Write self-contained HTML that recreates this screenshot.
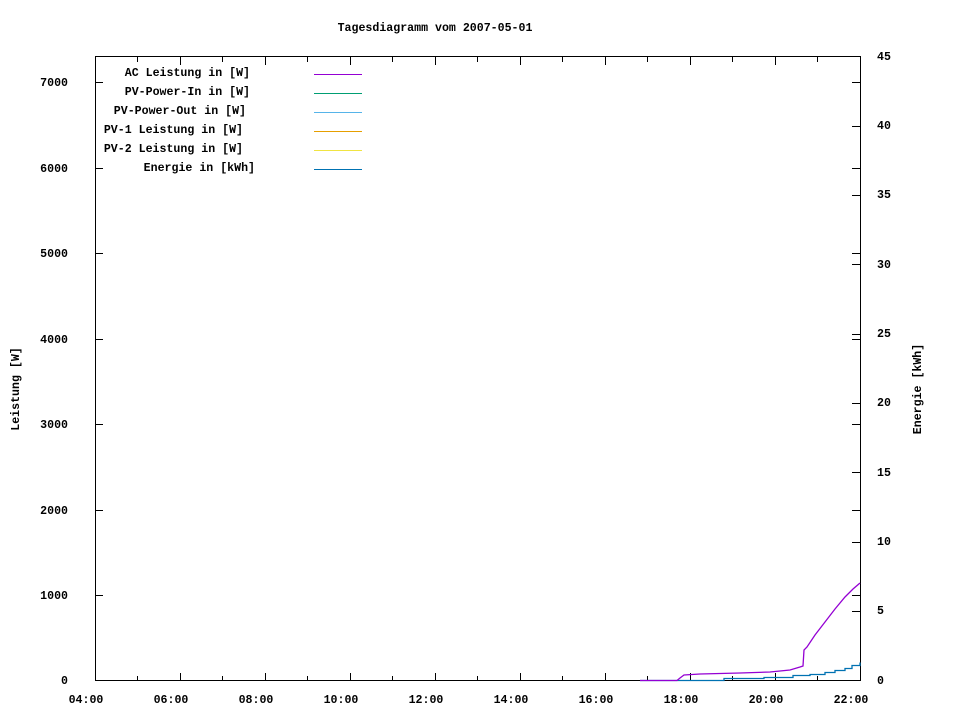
<!DOCTYPE html>
<html><head><meta charset="utf-8"><style>
body{margin:0;background:#fff}
text{font-family:"Liberation Mono",monospace;font-size:11.6px;font-weight:bold;fill:#000}
</style></head><body>
<svg width="960" height="720" xmlns="http://www.w3.org/2000/svg">
<text x="435" y="31" text-anchor="middle">Tagesdiagramm vom 2007-05-01</text>
<rect x="95.5" y="56.5" width="765" height="624" fill="none" stroke="#000"/>
<g stroke="#000">
<path d="M137.5 681v-5M180.5 681v-8M222.5 681v-5M265.5 681v-8M307.5 681v-5M350.5 681v-8M392.5 681v-5M435.5 681v-8M477.5 681v-5M520.5 681v-8M562.5 681v-5M605.5 681v-8M647.5 681v-5M690.5 681v-8M732.5 681v-5M775.5 681v-8M817.5 681v-5
M137.5 57v5M180.5 57v8M222.5 57v5M265.5 57v8M307.5 57v5M350.5 57v8M392.5 57v5M435.5 57v8M477.5 57v5M520.5 57v8M562.5 57v5M605.5 57v8M647.5 57v5M690.5 57v8M732.5 57v5M775.5 57v8M817.5 57v5"/>
<path d="M95 595.5h8M95 510.5h8M95 424.5h8M95 339.5h8M95 253.5h8M95 168.5h8M95 82.5h8
M860 595.5h-8M860 510.5h-8M860 424.5h-8M860 339.5h-8M860 253.5h-8M860 168.5h-8M860 82.5h-8
M860 611.5h-8M860 542.5h-8M860 472.5h-8M860 403.5h-8M860 334.5h-8M860 264.5h-8M860 195.5h-8M860 126.5h-8"/>
</g>
<g text-anchor="end">
<text x="68" y="684">0</text><text x="68" y="599">1000</text><text x="68" y="514">2000</text><text x="68" y="428">3000</text><text x="68" y="343">4000</text><text x="68" y="257">5000</text><text x="68" y="172">6000</text><text x="68" y="86">7000</text>
</g>
<g text-anchor="start">
<text x="877" y="684">0</text><text x="877" y="614">5</text><text x="877" y="545">10</text><text x="877" y="476">15</text><text x="877" y="406">20</text><text x="877" y="337">25</text><text x="877" y="268">30</text><text x="877" y="198">35</text><text x="877" y="129">40</text><text x="877" y="60">45</text>
</g>
<g text-anchor="middle">
<text x="86" y="703">04:00</text><text x="171" y="703">06:00</text><text x="256" y="703">08:00</text><text x="341" y="703">10:00</text><text x="426" y="703">12:00</text><text x="511" y="703">14:00</text><text x="596" y="703">16:00</text><text x="681" y="703">18:00</text><text x="766" y="703">20:00</text><text x="851" y="703">22:00</text>
</g>
<text transform="translate(19,389) rotate(-90)" text-anchor="middle">Leistung [W]</text>
<text transform="translate(921,389) rotate(-90)" text-anchor="middle">Energie [kWh]</text>
<g text-anchor="end">
<text x="250" y="76">AC Leistung in [W]</text>
<text x="250" y="95">PV-Power-In in [W]</text>
<text x="246" y="114">PV-Power-Out in [W]</text>
<text x="243" y="133">PV-1 Leistung in [W]</text>
<text x="243" y="152">PV-2 Leistung in [W]</text>
<text x="255" y="171">Energie in [kWh]</text>
</g>
<g stroke-width="1">
<path d="M314 74.5h48" stroke="#9400d3"/>
<path d="M314 93.5h48" stroke="#009e73"/>
<path d="M314 112.5h48" stroke="#56b4e9"/>
<path d="M314 131.5h48" stroke="#e69f00"/>
<path d="M314 150.5h48" stroke="#f0e442"/>
<path d="M314 169.5h48" stroke="#0072b2"/>
</g>
<path fill="none" stroke="#0072b2" stroke-width="1.3" d="M640 680.5H724V678.5H764V677.5H793V675.5H810V674.5H825V672.5H835V670.5H845V668.5H852V665.5H860V662.5"/>
<path fill="none" stroke="#9400d3" stroke-width="1.3" d="M640 680.5H677L680 678L684 675L700 674L740 673L770 672L790 670L800 667L803 666L804 650L807 647L815 635L825 622L835 609L845 597L853 589L860 583"/>
</svg>
</body></html>
